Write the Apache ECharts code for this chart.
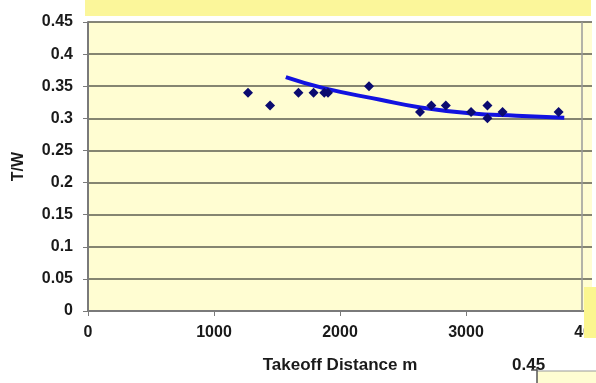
<!DOCTYPE html>
<html>
<head>
<meta charset="utf-8">
<script src="https://cdn.jsdelivr.net/npm/echarts@6/dist/echarts.min.js"></script>
<style>
	html, body { margin: 0; padding: 0; background: #ffffff; }
	#chart { width: 596px; height: 383px; }
</style>
</head>
<body>
<div id="chart"></div>
<script>
// measured points: takeoff distance (m) vs thrust/weight
var distances = [1270, 1445, 1670, 1790, 1875, 1905, 2230, 2635, 2725, 2840, 3040, 3170, 3170, 3290, 3735];
var twRatios  = [0.34, 0.32, 0.34, 0.34, 0.34, 0.34, 0.35, 0.31, 0.32, 0.32, 0.31, 0.32, 0.30, 0.31, 0.31];

// trend curve
var trendX = [1570, 1870, 2320, 2640, 3030, 3400, 3780];
var trendY = [0.364, 0.347, 0.329, 0.317, 0.308, 0.304, 0.301];

var yTicks = [0, 0.05, 0.1, 0.15, 0.2, 0.25, 0.3, 0.35, 0.4, 0.45];

var chartColors = {
	plotBg: '#fffdd2',
	band: '#fbf69a',
	grid: '#5c5c50',
	axis: '#7a7a7a',
	text: '#1a1a1a',
	marker: '#0b0b70',
	trend: '#1212e0'
};

var labelFont = {
	size: 16,
	family: '"Liberation Sans", Arial, sans-serif'
};

var echart = echarts.init(document.getElementById('chart'));

function zip(a, b) {
	var out = [];
	for (var i = 0; i < a.length; i++) out.push([a[i], b[i]]);
	return out;
}

var eChartOptions = {
	animation: false,
	backgroundColor: '#ffffff',
	grid: {
		left: 88,
		right: 4,
		top: 22,
		bottom: 72,
		containLabel: false,
		outerBoundsMode: 'none',
		show: true,
		backgroundColor: chartColors.plotBg,
		borderWidth: 0
	},
	xAxis: {
		type: 'value',
		min: 0,
		max: 4000,
		interval: 1000,
		name: 'Takeoff Distance m',
		nameLocation: 'middle',
		nameGap: 46,
		nameTextStyle: {
			fontSize: 17,
			fontWeight: 'bold',
			fontFamily: labelFont.family,
			color: chartColors.text
		},
		axisLine: { show: true, lineStyle: { color: chartColors.axis, width: 2 } },
		axisTick: { show: true, length: 5, lineStyle: { color: chartColors.axis } },
		axisLabel: {
			margin: 14,
			fontSize: labelFont.size,
			fontWeight: 'bold',
			fontFamily: labelFont.family,
			color: chartColors.text,
			hideOverlap: false,
			formatter: function (v) { return String(v); }
		},
		splitLine: { show: false }
	},
	yAxis: {
		type: 'value',
		min: 0,
		max: 0.45,
		interval: 0.05,
		name: 'T/W',
		nameLocation: 'middle',
		nameGap: 61,
		nameRotate: 90,
		nameTextStyle: {
			fontSize: 16,
			fontWeight: 'bold',
			fontFamily: labelFont.family,
			color: chartColors.text
		},
		axisLine: { show: true, lineStyle: { color: chartColors.axis, width: 2 } },
		axisTick: { show: true, length: 5, lineStyle: { color: chartColors.axis } },
		axisLabel: {
			margin: 15,
			fontSize: labelFont.size,
			fontWeight: 'bold',
			fontFamily: labelFont.family,
			color: chartColors.text,
			formatter: function (v) {
				for (var i = 0; i < yTicks.length; i++) {
					if (Math.abs(yTicks[i] - v) < 1e-9) return String(yTicks[i]);
				}
				return '';
			}
		},
		splitLine: { show: true, lineStyle: { color: chartColors.grid, width: 1.5 } }
	},
	series: [
		{
			type: 'line',
			data: zip(trendX, trendY),
			smooth: true,
			showSymbol: false,
			symbol: 'none',
			lineStyle: { color: chartColors.trend, width: 4 },
			z: 3
		},
		{
			type: 'scatter',
			data: zip(distances, twRatios),
			symbol: 'diamond',
			symbolSize: 10,
			itemStyle: { color: chartColors.marker, opacity: 1 },
			z: 4
		}
	],
	graphic: [
		// bright band above the plot (neighbouring slide element)
		{ type: 'rect', shape: { x: 85, y: 0, width: 506, height: 16 }, style: { fill: chartColors.band }, z: 100 },
		// right border of the plot frame
		{ type: 'line', shape: { x1: 582, y1: 22, x2: 582, y2: 311 }, style: { stroke: '#9a9a9a', lineWidth: 1.5 }, z: 100 },
		// yellow strip on the right edge covering the end of the x labels
		{ type: 'rect', shape: { x: 584, y: 287, width: 12, height: 51 }, style: { fill: '#fbf690' }, z: 100 },
		// fragment of the next chart at the bottom right
		{ type: 'text', left: 512, top: 357, style: { text: '0.45', fontSize: 17, fontWeight: 'bold', fontFamily: labelFont.family, fill: chartColors.text }, z: 100 },
		{ type: 'rect', shape: { x: 537, y: 371, width: 59, height: 12 }, style: { fill: chartColors.plotBg }, z: 100 },
		{ type: 'line', shape: { x1: 537, y1: 371, x2: 596, y2: 371 }, style: { stroke: '#9a9a9a', lineWidth: 1 }, z: 100 },
		{ type: 'line', shape: { x1: 537, y1: 368, x2: 537, y2: 383 }, style: { stroke: '#555555', lineWidth: 1.5 }, z: 100 },
		{ type: 'line', shape: { x1: 531, y1: 370, x2: 537, y2: 370 }, style: { stroke: '#555555', lineWidth: 1.5 }, z: 100 }
	]
};

echart.setOption(eChartOptions);
</script>
</body>
</html>
